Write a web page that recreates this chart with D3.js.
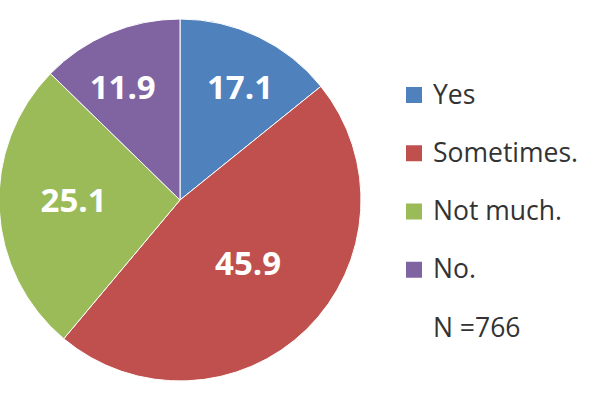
<!DOCTYPE html>
<html>
<head>
<meta charset="utf-8">
<script src="https://cdn.jsdelivr.net/npm/d3@7"></script>
<style>
  html, body { margin: 0; padding: 0; background: #fff; }
  svg { display: block; }
</style>
</head>
<body>
<svg id="chart" width="613" height="393"></svg>
<script>
const categories = ["Yes", "Sometimes.", "Not much.", "No."];
// printed data labels
const labelValues = [17.1, 45.9, 25.1, 11.9];
const sliceShares = [14.2, 46.9, 26.2, 12.7];
const colors = ["#4F81BD", "#C0504D", "#9BBB59", "#8064A2"];
const noteText = "N =766";

const W = 613, H = 393;
const cx = 180, cy = 200, R = 181;

const svg = d3.select("#chart");
const g = svg.append("g").attr("transform", `translate(${cx},${cy})`);

const pie = d3.pie().sort(null).value(d => d)(sliceShares);
const arc = d3.arc().innerRadius(0).outerRadius(R);

g.selectAll("path.slice")
  .data(pie)
  .join("path")
  .attr("class", "slice")
  .attr("d", arc)
  .attr("fill", (d, i) => colors[i])
  .attr("stroke", "#fff")
  .attr("stroke-width", 1);

// label placement (layout: radius fraction, angle nudge in degrees)
const labelLayout = [[0.707, 2.4], [0.512, -2.8], [0.588, 3.0], [0.698, -4.1]];
g.selectAll("text.val")
  .data(pie)
  .join("text")
  .attr("class", "val")
  .attr("transform", (d, i) => {
    const a = (d.startAngle + d.endAngle) / 2 + labelLayout[i][1] * Math.PI / 180;
    const r = labelLayout[i][0] * R;
    return `translate(${r * Math.sin(a)},${-r * Math.cos(a)})`;
  })
  .attr("text-anchor", "middle")
  .attr("dy", "0.36em")
  .attr("font-family", "'Open Sans', sans-serif")
  .attr("font-weight", "bold")
  .attr("font-size", 33)
  .attr("fill", "#fff")
  .text((d, i) => labelValues[i].toFixed(1));

// legend
const legend = svg.append("g");
const y = d3.scalePoint().domain(d3.range(categories.length + 1)).range([94, 327]);
const items = legend.selectAll("g.item")
  .data(categories)
  .join("g")
  .attr("class", "item")
  .attr("transform", (d, i) => `translate(406,${y(i)})`);
items.append("rect")
  .attr("x", 0).attr("y", -7)
  .attr("width", 16).attr("height", 16)
  .attr("fill", (d, i) => colors[i]);
items.append("text")
  .attr("x", 27).attr("dy", "0.36em")
  .attr("font-family", "'Open Sans', sans-serif")
  .attr("font-size", 26.5)
  .attr("fill", "#333")
  .text(d => d);
legend.append("text")
  .attr("x", 433).attr("y", y(categories.length)).attr("dy", "0.36em")
  .attr("font-family", "'Open Sans', sans-serif")
  .attr("font-size", 26.5)
  .attr("fill", "#333")
  .text(noteText);
</script>
</body>
</html>
